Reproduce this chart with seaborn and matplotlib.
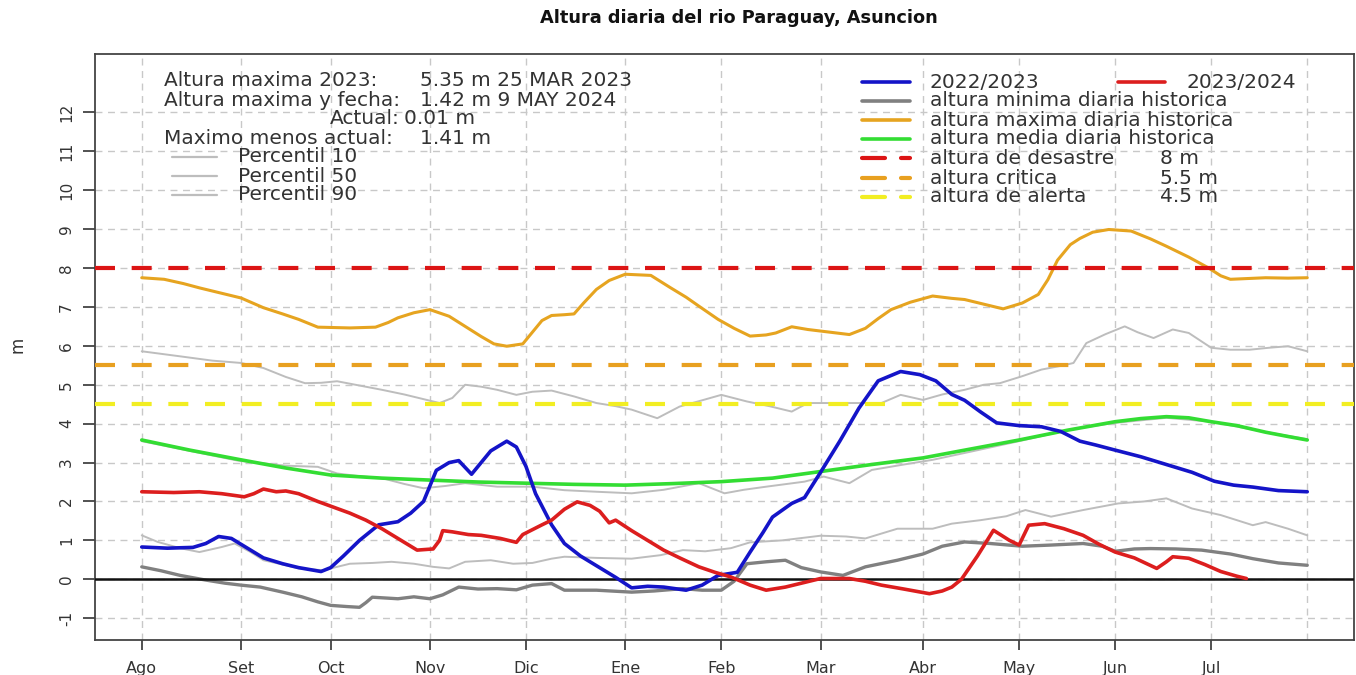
import matplotlib.pyplot as plt
import seaborn as sns

# days counted from 1 Aug (0) to 31 Jul (364)
month_labels = ["Ago", "Set", "Oct", "Nov", "Dic", "Ene", "Feb", "Mar", "Abr", "May", "Jun", "Jul"]
month_days = [0, 31, 59, 90, 120, 151, 181, 212, 244, 274, 304, 334]
last_day = 364

blue_days = [0, 8, 16, 20, 24, 28, 33, 38, 44, 49, 56, 59, 63, 68, 74, 80, 84, 88, 92, 96, 99, 103,
             109, 114, 117, 120, 123, 128, 132, 137, 142, 148, 153, 158, 163, 170, 175, 180, 186, 190,
             194, 197, 203, 207, 212, 218, 224, 230, 237, 243, 248, 253, 257, 262, 267, 274, 281, 287,
             293, 298, 304, 312, 320, 328, 335, 341, 347, 355, 364]
blue_vals = [0.83, 0.80, 0.82, 0.92, 1.10, 1.05, 0.80, 0.55, 0.40, 0.30, 0.20, 0.30, 0.60, 1.00, 1.40,
             1.48, 1.70, 2.00, 2.80, 3.00, 3.05, 2.70, 3.30, 3.55, 3.40, 2.90, 2.20, 1.40, 0.92, 0.60,
             0.35, 0.05, -0.22, -0.18, -0.20, -0.28, -0.15, 0.10, 0.18, 0.70, 1.20, 1.60, 1.95, 2.10,
             2.75, 3.55, 4.40, 5.10, 5.34, 5.26, 5.10, 4.75, 4.60, 4.30, 4.02, 3.95, 3.92, 3.80, 3.55,
             3.45, 3.32, 3.15, 2.95, 2.75, 2.52, 2.42, 2.37, 2.28, 2.25]

red_days = [0, 10, 18, 25, 32, 35, 38, 42, 45, 49, 55, 60, 65, 70, 75, 80, 86, 91, 93, 94, 97, 102,
            106, 112, 117, 119, 125, 128, 132, 136, 140, 143, 146, 148, 153, 158, 163, 168, 174, 179,
            184, 190, 195, 201, 207, 212, 221, 226, 231, 238, 246, 250, 253, 256, 261, 266, 271, 274,
            277, 282, 288, 294, 299, 304, 310, 317, 320, 322, 327, 332, 337, 342, 345]
red_vals = [2.25, 2.23, 2.25, 2.20, 2.12, 2.20, 2.32, 2.25, 2.27, 2.20, 2.00, 1.85, 1.70, 1.52, 1.30,
            1.05, 0.75, 0.78, 1.00, 1.25, 1.22, 1.15, 1.13, 1.05, 0.95, 1.15, 1.40, 1.52, 1.80, 1.99,
            1.90, 1.75, 1.45, 1.52, 1.25, 1.00, 0.75, 0.55, 0.32, 0.18, 0.06, -0.15, -0.28, -0.20,
            -0.08, 0.02, 0.02, -0.05, -0.15, -0.25, -0.37, -0.30, -0.20, 0.00, 0.60, 1.26, 1.00, 0.88,
            1.39, 1.43, 1.30, 1.13, 0.90, 0.70, 0.55, 0.28, 0.45, 0.58, 0.54, 0.38, 0.20, 0.08, 0.02]

max_days = [0, 7, 13, 18, 25, 31, 38, 44, 49, 55, 60, 65, 73, 77, 80, 85, 90, 96, 101, 106, 110, 114,
            119, 122, 125, 128, 132, 135, 138, 142, 146, 151, 159, 165, 170, 174, 180, 185, 190, 195,
            198, 203, 208, 213, 221, 226, 230, 234, 240, 247, 253, 257, 263, 269, 275, 280, 283, 286,
            290, 293, 297, 302, 309, 315, 320, 327, 333, 337, 340, 351, 358, 364]
max_vals = [7.75, 7.71, 7.60, 7.49, 7.35, 7.23, 6.98, 6.82, 6.68, 6.48, 6.47, 6.46, 6.48, 6.60, 6.72,
            6.85, 6.93, 6.76, 6.50, 6.24, 6.05, 5.99, 6.05, 6.35, 6.65, 6.78, 6.80, 6.82, 7.10, 7.45,
            7.68, 7.84, 7.81, 7.50, 7.25, 7.02, 6.68, 6.45, 6.25, 6.28, 6.33, 6.49, 6.42, 6.37, 6.29,
            6.45, 6.70, 6.93, 7.12, 7.28, 7.22, 7.19, 7.07, 6.95, 7.10, 7.32, 7.70, 8.20, 8.60, 8.76,
            8.92, 8.99, 8.95, 8.75, 8.56, 8.28, 8.01, 7.80, 7.71, 7.75, 7.74, 7.75]

mean_days = [0, 15, 31, 45, 59, 75, 90, 105, 120, 135, 151, 166, 181, 197, 212, 228, 244, 259, 274,
             289, 304, 312, 320, 327, 334, 342, 351, 358, 364]
mean_vals = [3.58, 3.32, 3.07, 2.86, 2.68, 2.60, 2.55, 2.50, 2.47, 2.44, 2.42, 2.46, 2.51, 2.60, 2.77,
             2.95, 3.12, 3.35, 3.58, 3.83, 4.05, 4.13, 4.18, 4.15, 4.05, 3.95, 3.78, 3.67, 3.58]

min_days = [0, 6, 12, 20, 26, 31, 37, 44, 50, 55, 59, 64, 68, 70, 72, 76, 80, 85, 90, 94, 99, 105,
            111, 117, 122, 128, 132, 142, 153, 160, 169, 175, 181, 185, 189, 195, 201, 206, 212, 219,
            226, 236, 244, 250, 257, 265, 275, 284, 294, 300, 304, 310, 315, 323, 331, 340, 347, 355,
            364]
min_vals = [0.32, 0.22, 0.10, -0.02, -0.10, -0.15, -0.20, -0.33, -0.45, -0.58, -0.67, -0.70, -0.72,
            -0.60, -0.46, -0.48, -0.50, -0.45, -0.50, -0.40, -0.20, -0.25, -0.24, -0.27, -0.15, -0.11,
            -0.28, -0.28, -0.33, -0.30, -0.24, -0.28, -0.28, -0.05, 0.40, 0.45, 0.49, 0.30, 0.19, 0.10,
            0.32, 0.49, 0.65, 0.85, 0.96, 0.92, 0.85, 0.88, 0.92, 0.85, 0.72, 0.78, 0.79, 0.78, 0.75,
            0.65, 0.53, 0.42, 0.36]

p10_days = [0, 5, 12, 18, 25, 29, 34, 38, 44, 49, 57, 60, 65, 72, 78, 85, 91, 96, 101, 109, 116, 122,
            128, 132, 142, 153, 162, 169, 176, 184, 190, 200, 212, 220, 226, 236, 247, 253, 262, 270,
            276, 284, 294, 305, 313, 320, 328, 337, 347, 351, 358, 364]
p10_vals = [1.13, 0.96, 0.80, 0.70, 0.83, 0.92, 0.70, 0.49, 0.38, 0.28, 0.23, 0.30, 0.40, 0.42, 0.45,
            0.40, 0.32, 0.28, 0.45, 0.49, 0.40, 0.42, 0.53, 0.58, 0.55, 0.53, 0.62, 0.75, 0.72, 0.80,
            0.95, 1.00, 1.12, 1.10, 1.05, 1.30, 1.30, 1.43, 1.52, 1.62, 1.78, 1.61, 1.78, 1.95, 2.00,
            2.08, 1.82, 1.65, 1.39, 1.47, 1.30, 1.13]

p50_days = [0, 15, 30, 45, 55, 61, 68, 75, 82, 88, 95, 101, 111, 122, 132, 142, 153, 163, 174, 182,
            188, 195, 207, 213, 221, 228, 238, 247, 260, 274, 290, 304, 320, 334, 350, 364]
p50_vals = [3.55, 3.30, 3.05, 2.92, 2.89, 2.72, 2.65, 2.60, 2.45, 2.34, 2.40, 2.47, 2.38, 2.38, 2.29,
            2.25, 2.21, 2.30, 2.47, 2.21, 2.30, 2.38, 2.51, 2.64, 2.47, 2.81, 2.95, 3.07, 3.30, 3.55,
            3.85, 4.02, 4.15, 4.05, 3.80, 3.60]

p90_days = [0, 12, 22, 31, 38, 45, 51, 56, 61, 68, 75, 82, 89, 93, 97, 101, 106, 111, 117, 122, 128,
            135, 142, 148, 153, 161, 168, 175, 181, 189, 196, 203, 208, 215, 224, 231, 237, 244, 250,
            257, 263, 268, 275, 281, 288, 291, 295, 301, 307, 311, 316, 322, 327, 334, 340, 346, 352,
            358, 364]
p90_vals = [5.86, 5.73, 5.62, 5.56, 5.43, 5.20, 5.04, 5.05, 5.09, 4.98, 4.87, 4.75, 4.61, 4.53, 4.66,
            5.00, 4.95, 4.87, 4.74, 4.82, 4.85, 4.70, 4.53, 4.45, 4.36, 4.14, 4.44, 4.60, 4.74, 4.57,
            4.45, 4.31, 4.53, 4.53, 4.53, 4.53, 4.74, 4.61, 4.75, 4.87, 5.00, 5.04, 5.22, 5.39, 5.50,
            5.56, 6.07, 6.30, 6.50, 6.35, 6.20, 6.42, 6.33, 5.95, 5.90, 5.90, 5.95, 5.99, 5.86]

level_desastre = 8.0
level_critica = 5.5
level_alerta = 4.5

info_labels = ["Altura maxima 2023:", "Altura maxima y fecha:", "Maximo menos actual:"]
info_values = ["5.35 m 25 MAR 2023", "1.42 m 9 MAY 2024", "1.41 m"]
actual_text = "0.01 m"

# colours
c_blue = "#1414C8"
c_red = "#DC1E1E"
c_max = "#E6A420"
c_mean = "#33DD33"
c_min = "#808080"
c_pct = "#BDBDBD"
c_des = "#DC1414"
c_cri = "#E8A020"
c_ale = "#F2EE22"

sns.set_theme(style="white")
plt.rcParams["font.family"] = ["DejaVu Sans"]

W, H = 1356, 675
fig = plt.figure(figsize=(W / 100, H / 100), dpi=100)
ax = fig.add_axes([95 / W, 35 / H, (1354 - 95) / W, (640 - 54) / H])


def fx(px):
    return px / W


def fy(py):
    return 1 - py / H


grid_kw = dict(color="#C8C8C8", lw=1.0, ls=(0, (5, 4)), zorder=0)
for yv in range(-1, 13):
    ax.axhline(yv, **grid_kw)
for dv in month_days + [last_day]:
    ax.axvline(dv, **grid_kw)

# percentile curves
for d, v in [(p10_days, p10_vals), (p50_days, p50_vals), (p90_days, p90_vals)]:
    sns.lineplot(x=d, y=v, ax=ax, color=c_pct, lw=1.4, zorder=2)

sns.lineplot(x=min_days, y=min_vals, ax=ax, color=c_min, lw=2.4, zorder=3)
sns.lineplot(x=max_days, y=max_vals, ax=ax, color=c_max, lw=2.2, zorder=3)
sns.lineplot(x=mean_days, y=mean_vals, ax=ax, color=c_mean, lw=2.6, zorder=3)

# threshold levels
dash = (0, (4.8, 4.0))
ax.axhline(level_desastre, color=c_des, lw=3, ls=dash, zorder=4)
ax.axhline(level_critica, color=c_cri, lw=3, ls=dash, zorder=4)
ax.axhline(level_alerta, color=c_ale, lw=3, ls=dash, zorder=4)
ax.axhline(0, color="#111111", lw=1.8, zorder=4)

sns.lineplot(x=blue_days, y=blue_vals, ax=ax, color=c_blue, lw=2.6, zorder=5)
sns.lineplot(x=red_days, y=red_vals, ax=ax, color=c_red, lw=2.6, zorder=6)

ax.set_xlim(-14.6, 378.6)
ax.set_ylim(-1.56, 13.5)
ax.set_xticks(month_days)
ax.set_xticklabels(month_labels)
ax.set_yticks(range(-1, 13))
ax.set_yticklabels([str(v) for v in range(-1, 13)], rotation=90, va="center")
ax.tick_params(axis="y", length=9, width=1.2, colors="#333333", labelsize=11, pad=6, left=True)
ax.tick_params(axis="x", length=7, width=1.2, colors="#333333", labelsize=11.5, pad=8, bottom=True)
ax.set_xlabel("")
ax.set_ylabel("")
for s in ax.spines.values():
    s.set_color("#444444")
    s.set_linewidth(1.3)

fig.text(0.545, fy(18), "Altura diaria del rio Paraguay, Asuncion", ha="center", va="center",
         fontsize=12.8, weight="bold", color="#111111")
fig.text(fx(18), fy(345), "m", rotation=90, ha="center", va="center", fontsize=12, color="#333333")

# info block (top left)
txt_kw = dict(fontsize=14.5, color="#333333", va="center")
fig.text(fx(164), fy(81), info_labels[0], **txt_kw)
fig.text(fx(420), fy(81), info_values[0], **txt_kw)
fig.text(fx(164), fy(100), info_labels[1], **txt_kw)
fig.text(fx(420), fy(100), info_values[1], **txt_kw)
fig.text(fx(400), fy(119), "Actual:", ha="right", **txt_kw)
fig.text(fx(404), fy(119), actual_text, **txt_kw)
fig.text(fx(164), fy(138), info_labels[2], **txt_kw)
fig.text(fx(420), fy(138), info_values[2], **txt_kw)
for i, name in enumerate(["Percentil 10", "Percentil 50", "Percentil 90"]):
    yy = 157 + i * 19
    fig.add_artist(plt.Line2D([fx(172), fx(217)], [fy(yy), fy(yy)], color=c_pct, lw=1.6))
    fig.text(fx(238), fy(yy), name, **txt_kw)

# legend block (top right)
solid_rows = [("2022/2023", c_blue), ("altura minima diaria historica", c_min),
              ("altura maxima diaria historica", c_max), ("altura media diaria historica", c_mean)]
rows_y = [82, 101, 120, 139, 158, 178, 197]
for (name, col), yy in zip(solid_rows, rows_y):
    fig.add_artist(plt.Line2D([fx(862), fx(910)], [fy(yy), fy(yy)], color=col, lw=2.6))
    fig.text(fx(930), fy(yy), name, **txt_kw)
fig.add_artist(plt.Line2D([fx(1118), fx(1165)], [fy(82), fy(82)], color=c_red, lw=2.6))
fig.text(fx(1187), fy(82), "2023/2024", **txt_kw)
dash_rows = [("altura de desastre", "8 m", c_des), ("altura critica", "5.5 m", c_cri),
             ("altura de alerta", "4.5 m", c_ale)]
for (name, val, col), yy in zip(dash_rows, rows_y[4:]):
    fig.add_artist(plt.Line2D([fx(862), fx(885)], [fy(yy), fy(yy)], color=col, lw=3))
    fig.add_artist(plt.Line2D([fx(901), fx(910)], [fy(yy), fy(yy)], color=col, lw=3))
    fig.text(fx(930), fy(yy), name, **txt_kw)
    fig.text(fx(1160), fy(yy), val, **txt_kw)

fig.savefig("out.png", dpi=100)
